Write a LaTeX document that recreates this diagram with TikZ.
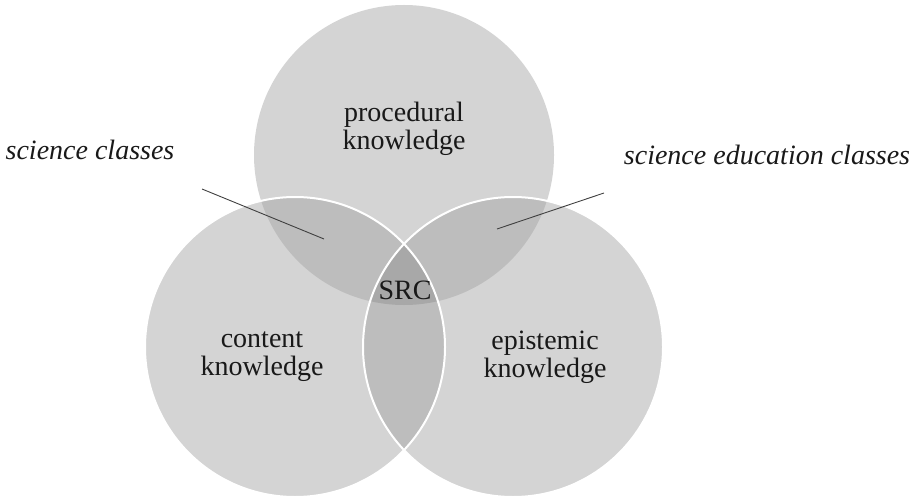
\documentclass[tikz,border=0pt]{standalone}
\usepackage{fontspec}
\setmainfont{Liberation Serif}
\usepackage{tikz}
\definecolor{vennone}{gray}{0.83}
\definecolor{venntwo}{gray}{0.74}
\definecolor{vennthree}{gray}{0.66}
\definecolor{pointercolor}{gray}{0.25}
\tikzset{venntext/.style={align=center,font=\fontsize{14}{14}\selectfont,inner sep=0pt,text=black!90}}
\tikzset{classtext/.style={venntext,font=\fontsize{14}{14}\selectfont\itshape}}
\tikzset{pointer/.style={draw=pointercolor,line width=0.45pt}}

\begin{document}
\begin{tikzpicture}[x=0.5pt,y=-0.5pt]
		\useasboundingbox (0,0) rectangle (919,496);
		%
		\coordinate (proc) at (404,155);
		\coordinate (cont) at (295,347);
		\coordinate (epis) at (513,347);
		%
		\fill[vennone] (proc) circle[radius=75pt] (cont) circle[radius=75pt] (epis) circle[radius=75pt];
		\begin{scope}
			\clip (proc) circle[radius=75pt];
			\fill[venntwo] (cont) circle[radius=75pt] (epis) circle[radius=75pt];
		\end{scope}
		\begin{scope}
			\clip (cont) circle[radius=75pt];
			\fill[venntwo] (epis) circle[radius=75pt];
		\end{scope}
		\begin{scope}
			\clip (proc) circle[radius=75pt];
			\clip (cont) circle[radius=75pt];
			\fill[vennthree] (epis) circle[radius=75pt];
		\end{scope}
		\draw[white,line width=1pt] (cont) circle[radius=75pt] (epis) circle[radius=75pt];
		%
		\node[venntext] (proclabel) at (404,129) {procedural\\knowledge};
		\node[venntext] (contlabel) at (262,357) {content\\knowledge};
		\node[venntext] (epislabel) at (545,357) {epistemic\\knowledge};
		\node[venntext] (src) at (405,290) {SRC};
		\node[classtext] (sciclass) at (90,150) {science classes};
		\node[classtext] (educlass) at (767,155) {science education classes};
		%
		\coordinate (scistart) at (202,189);
		\coordinate (sciend) at (324,239);
		\coordinate (edustart) at (604,193);
		\coordinate (eduend) at (497,229);
		\draw[pointer] (scistart) -- (sciend);
		\draw[pointer] (edustart) -- (eduend);
	\end{tikzpicture}
\end{document}
